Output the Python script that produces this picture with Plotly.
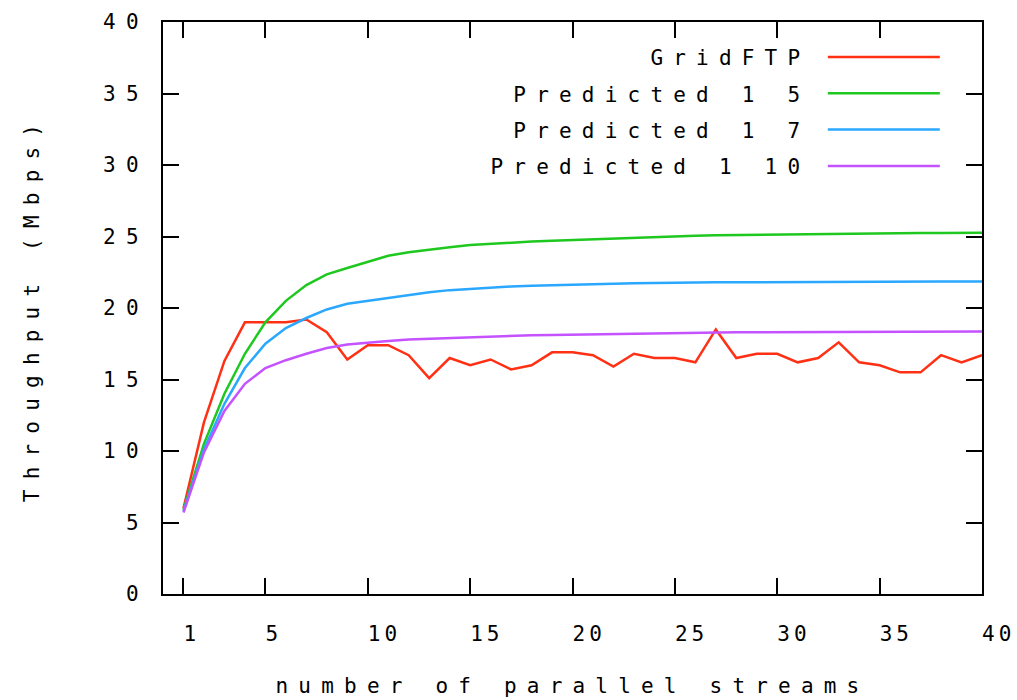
import plotly.graph_objects as go

streams = list(range(1, 41))

gridftp = [6.0, 12.0, 16.3, 19.0, 19.0, 19.0, 19.2, 18.3, 16.4, 17.4,
           17.4, 16.7, 15.1, 16.5, 16.0, 16.4, 15.7, 16.0, 16.9, 16.9,
           16.7, 15.9, 16.8, 16.5, 16.5, 16.2, 18.5, 16.5, 16.8, 16.8,
           16.2, 16.5, 17.6, 16.2, 16.0, 15.5, 15.5, 16.7, 16.2, 16.7]

pred_1_5 = [5.9, 10.5, 14.0, 16.8, 19.0, 20.5, 21.6, 22.35, 22.8, 23.25,
            23.65, 23.9, 24.1, 24.25, 24.4, 24.5, 24.55, 24.65, 24.7, 24.75,
            24.8, 24.85, 24.95, 25.0, 25.03, 25.05, 25.08, 25.1, 25.12, 25.15,
            25.17, 25.18, 25.2, 25.21, 25.22, 25.23, 25.24, 25.25, 25.26, 25.27]

pred_1_7 = [5.8, 10.1, 13.3, 15.8, 17.5, 18.6, 19.3, 19.9, 20.3, 20.5,
            20.7, 20.95, 21.1, 21.25, 21.35, 21.45, 21.5, 21.55, 21.6, 21.65,
            21.68, 21.7, 21.73, 21.76, 21.78, 21.79, 21.8, 21.8, 21.81, 21.81,
            21.82, 21.82, 21.83, 21.83, 21.84, 21.84, 21.84, 21.85, 21.85, 21.85]

pred_1_10 = [5.7, 9.9, 12.8, 14.7, 15.8, 16.35, 16.8, 17.2, 17.45, 17.6,
             17.7, 17.8, 17.85, 17.95, 18.0, 18.05, 18.07, 18.1, 18.12, 18.14,
             18.16, 18.2, 18.25, 18.27, 18.28, 18.29, 18.3, 18.3, 18.31, 18.31,
             18.32, 18.32, 18.33, 18.33, 18.34, 18.34, 18.35, 18.35, 18.35, 18.35]

series_names = ["GridFTP", "Predicted 1 5", "Predicted 1 7", "Predicted 1 10"]
series_values = [gridftp, pred_1_5, pred_1_7, pred_1_10]
series_colors = ["#ff3014", "#1ec81e", "#2aa8ff", "#c452ff"]

x_ticks = [1, 5, 10, 15, 20, 25, 30, 35, 40]
y_ticks = [0, 5, 10, 15, 20, 25, 30, 35, 40]

FONT = "DejaVu Sans Mono"
FS = 21

fig = go.Figure()
for name, vals, color in zip(series_names, series_values, series_colors):
    fig.add_trace(go.Scatter(x=streams, y=vals, mode="lines", name=name,
                             legendgroup=name,
                             line=dict(color=color, width=2.5)))

axis_common = dict(
    showline=True, linewidth=2, linecolor="black", mirror="ticks",
    ticks="inside", ticklen=16, tickwidth=2, tickcolor="black",
    showgrid=False, zeroline=False,
    tickfont=dict(family=FONT, size=FS, color="black"),
)

fig.update_layout(
    width=1017, height=700,
    margin=dict(l=163, r=35, t=22, b=106),
    paper_bgcolor="white", plot_bgcolor="white",
    font=dict(family=FONT, size=FS, color="black"),
    xaxis=dict(range=[0, 40], tickvals=x_ticks, ticktext=[str(v) for v in x_ticks],
               ticklabelstandoff=20,
               title=dict(text="number of parallel streams", standoff=33,
                          font=dict(family=FONT, size=FS)),
               automargin=False, **axis_common),
    yaxis=dict(range=[0, 40], tickvals=y_ticks, ticktext=[str(v) for v in y_ticks],
               ticklabelstandoff=8,
               title=dict(text="Throughput (Mbps)", standoff=78,
                          font=dict(family=FONT, size=FS)),
               automargin=False, **axis_common),
    legend=dict(x=0.6414, xanchor="left", y=0.974, yanchor="top",
                bgcolor="rgba(0,0,0,0)", borderwidth=0,
                font=dict(family=FONT, size=FS, color="black"),
                itemwidth=112, tracegroupgap=6, itemclick=False),
    showlegend=True,
)

# gnuplot-like wide character spacing and legend layout (text first, key line after)
post = """
var s = document.createElement('style');
s.textContent = `
.xtick text { letter-spacing: 4px; text-anchor: start; }
.ytick text { letter-spacing: 10.2px; }
.xtitle, .ytitle { letter-spacing: 10.2px; }
.legend .scrollbox { clip-path: none !important; }
.legend .legendtext { letter-spacing: 10.2px; text-anchor: end; }
.legend .legendlines { transform: translateX(134.5px); }
`;
document.head.appendChild(s);
"""

fig.write_html("out.html", post_script=post)
